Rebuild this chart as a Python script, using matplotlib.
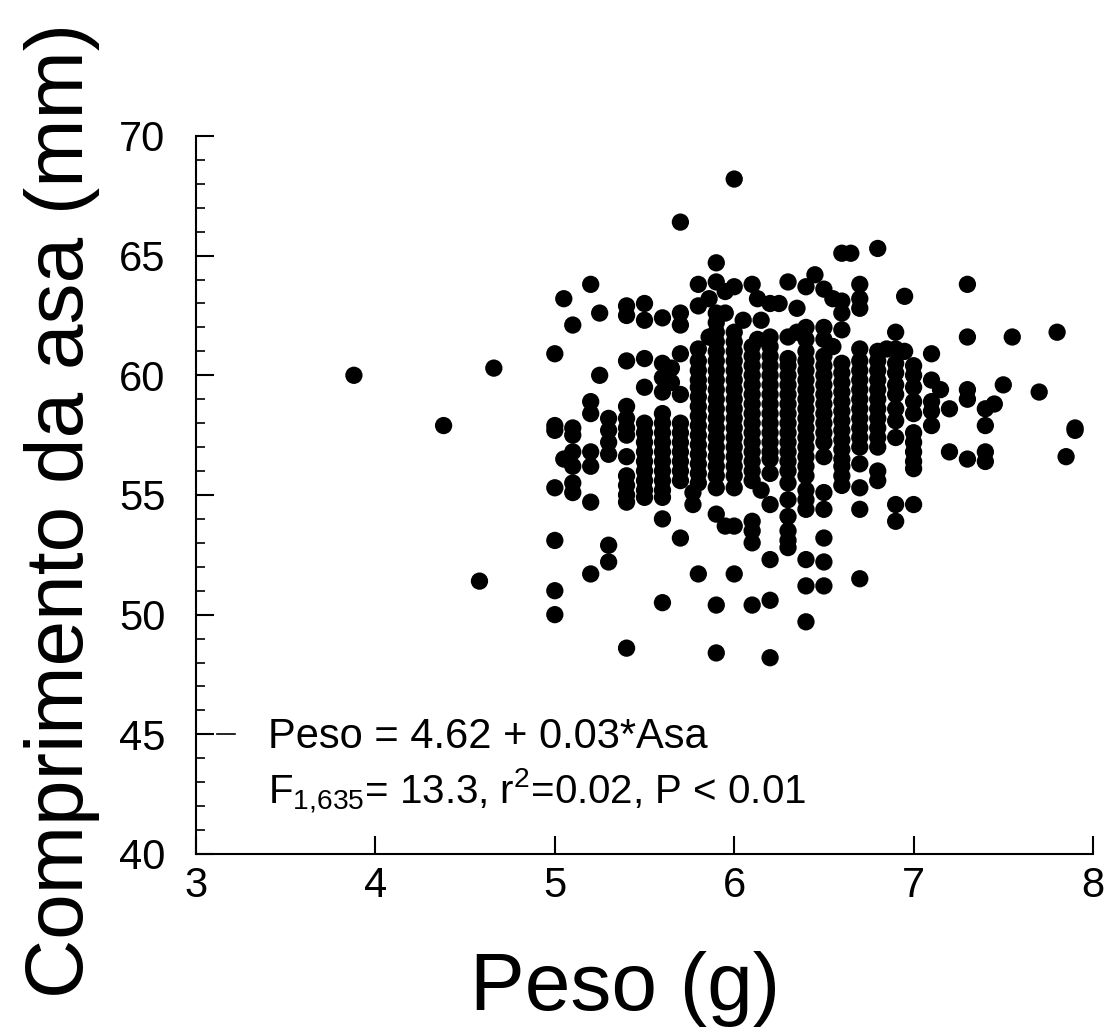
import matplotlib
matplotlib.use("Agg")
import matplotlib.pyplot as plt
import numpy as np

plt.rcParams['font.family'] = ['Liberation Sans', 'DejaVu Sans']
plt.rcParams['mathtext.fontset'] = 'custom'
plt.rcParams['mathtext.rm'] = 'Liberation Sans'
plt.rcParams['mathtext.it'] = 'Liberation Sans:italic'

# Weight columns (g) and the wing lengths (mm) observed in each column
peso_cols = [3.88, 4.38, 4.58, 4.66, 5.0, 5.05, 5.1, 5.2, 5.25, 5.3, 5.4, 5.5,
             5.6, 5.65, 5.7, 5.77, 5.8, 5.86, 5.9, 5.95, 6.0, 6.05, 6.1, 6.13,
             6.15, 6.2, 6.25, 6.3, 6.35, 6.4, 6.45, 6.5, 6.55, 6.6, 6.65, 6.7,
             6.8, 6.85, 6.9, 6.95, 7.0, 7.1, 7.15, 7.2, 7.3, 7.4, 7.45, 7.5,
             7.55, 7.7, 7.8, 7.85, 7.9]

asa_cols = [
    [60.0],
    [57.9],
    [51.4],
    [60.3],
    [60.9, 57.9, 57.7, 55.3, 53.1, 51.0, 50.0],
    [63.2, 56.5],
    [62.1, 57.8, 57.5, 56.8, 56.2, 55.5, 55.1],
    [63.8, 58.9, 58.4, 56.8, 56.2, 54.7, 51.7],
    [62.6, 60.0],
    [58.2, 57.7, 57.2, 56.7, 52.9, 52.2],
    [62.9, 62.5, 60.6, 58.7, 58.2, 57.8, 57.5, 56.6, 55.8, 55.4, 55.0, 54.7, 48.6],
    [63.0, 62.3, 60.7, 59.5, 58.0, 57.6, 57.2, 56.8, 56.4, 56.0, 55.6, 55.2, 54.9],
    [62.4, 60.5, 59.9, 59.3, 58.4, 58.0, 57.6, 57.2, 56.8, 56.4, 56.0, 55.6,
     55.2, 54.9, 54.0, 50.5],
    [60.3, 59.7],
    [66.4, 62.6, 62.1, 60.9, 59.2, 58.0, 57.6, 57.2, 56.8, 56.4, 56.0, 55.6, 53.2],
    [55.1, 54.6],
    [63.8, 62.9, 61.1, 60.6, 60.2, 59.8, 59.5, 59.1, 58.7, 58.3, 57.9, 57.5,
     57.1, 56.7, 56.3, 55.9, 55.5, 51.7],
    [63.2, 61.6],
    [64.7, 63.9, 62.6, 62.2, 61.8, 61.4, 61.0, 60.6, 60.2, 59.8, 59.4,
     59.0, 58.6, 58.2, 57.8, 57.4, 57.0, 56.6, 56.2, 55.8, 55.3, 54.2, 50.4, 48.4],
    [63.5, 62.6, 53.7],
    [68.2, 63.7, 61.8, 61.4, 61.0, 60.6, 60.2, 59.8, 59.4, 59.0, 58.6,
     58.2, 57.8, 57.4, 57.0, 56.6, 56.2, 55.8, 55.3, 53.7, 51.7],
    [62.3],
    [63.8, 61.2, 60.8, 60.4, 60.0, 59.6, 59.2, 58.8, 58.4, 58.0,
     57.6, 57.2, 56.8, 56.4, 56.0, 55.6, 53.9, 53.5, 53.0, 50.4],
    [63.2, 61.5],
    [62.3, 55.2],
    [63.0, 61.6, 61.2, 60.8, 60.4, 60.0, 59.6, 59.2, 58.8, 58.4, 58.0, 57.6,
     57.2, 56.8, 56.5, 55.9, 54.6, 52.3, 50.6, 48.2],
    [63.0],
    [63.9, 61.6, 60.7, 60.4, 60.0, 59.6, 59.2, 58.8, 58.4, 58.0, 57.6,
     57.2, 56.8, 56.4, 56.0, 55.5, 54.8, 54.1, 53.5, 53.1, 52.8],
    [62.8, 61.8],
    [63.7, 62.0, 61.5, 61.0, 60.6, 60.2, 59.8, 59.4, 59.0, 58.6, 58.2, 57.8,
     57.4, 57.0, 56.6, 56.2, 55.8, 55.2, 54.8, 54.4, 52.3, 51.2, 49.7],
    [64.2],
    [63.6, 62.0, 61.5, 60.8, 60.4, 60.0, 59.6, 59.2, 58.8, 58.4, 58.0, 57.6,
     57.2, 56.6, 55.1, 54.4, 53.2, 52.2, 51.2],
    [63.2, 61.2],
    [65.1, 63.1, 62.6, 61.9, 60.5, 60.1, 59.7, 59.3, 58.9, 58.5, 58.1, 57.7,
     57.3, 56.9, 56.5, 56.2, 55.8, 55.4],
    [65.1],
    [63.8, 63.2, 62.8, 61.1, 60.6, 60.2, 59.8, 59.4, 59.0, 58.6, 58.2, 57.8,
     57.4, 57.0, 56.3, 55.3, 54.4, 51.5],
    [65.3, 61.0, 60.6, 60.2, 59.8, 59.4, 59.0, 58.6, 58.2, 57.8, 57.4, 57.0,
     56.0, 55.6],
    [61.1],
    [61.8, 61.1, 60.5, 60.1, 59.6, 59.2, 58.6, 58.1, 57.4, 54.6, 53.9],
    [63.3, 61.0],
    [60.4, 60.0, 59.5, 58.9, 58.4, 57.6, 57.2, 56.8, 56.4, 56.1, 54.6],
    [60.9, 59.8, 58.9, 58.5, 57.9],
    [59.4],
    [58.6, 56.8],
    [63.8, 61.6, 59.4, 59.0, 56.5],
    [58.6, 57.9, 56.8, 56.4],
    [58.8],
    [59.6],
    [61.6],
    [59.3],
    [61.8],
    [56.6],
    [57.8, 57.7],
]

peso = np.concatenate([[p] * len(a) for p, a in zip(peso_cols, asa_cols)])
asa = np.concatenate(asa_cols)

fig = plt.figure(figsize=(11.12, 10.30), dpi=100)
ax = fig.add_axes([0.1763, 0.1709, 0.8066, 0.6971])
ax.scatter(peso, asa, s=155, c='black', edgecolors='none', zorder=3)

ax.set_xlim(3, 8)
ax.set_ylim(40, 70)
ax.set_xticks([3, 4, 5, 6, 7, 8])
ax.set_yticks([40, 45, 50, 55, 60, 65, 70])
ax.set_yticks(np.arange(40, 71, 1), minor=True)
ax.tick_params(axis='both', which='major', direction='in', length=13,
               width=1.5, labelsize=30, colors='black')
ax.tick_params(axis='y', which='major', pad=22)
ax.tick_params(axis='x', which='major', pad=9)
ax.tick_params(axis='y', which='minor', direction='in', length=6.5, width=1.2)
ax.tick_params(axis='x', which='minor', bottom=False)
for s in ['top', 'right']:
    ax.spines[s].set_visible(False)
for s in ['left', 'bottom']:
    ax.spines[s].set_linewidth(1.5)

# small extra dash next to the 45 tick
ax.plot([0.0234, 0.0435], [45, 45], color='black', lw=1.2,
        transform=ax.get_yaxis_transform(), clip_on=False)

ax.set_xlabel('Peso (g)', fontsize=59)
ax.set_ylabel('Comprimento da asa (mm)', fontsize=59)
ax.xaxis.set_label_coords(0.478, -0.135)
ax.yaxis.set_label_coords(-0.107, 0.479)

ax.text(3.40, 44.9, 'Peso = 4.62 + 0.03*Asa', fontsize=30, va='center', ha='left')
ax.text(3.40, 42.6, r'F$_{\mathregular{1{,}635}}$= 13.3, r$^{\mathregular{2}}$=0.02, P < 0.01',
        fontsize=29, va='center', ha='left')

fig.savefig('out.png', dpi=100)
